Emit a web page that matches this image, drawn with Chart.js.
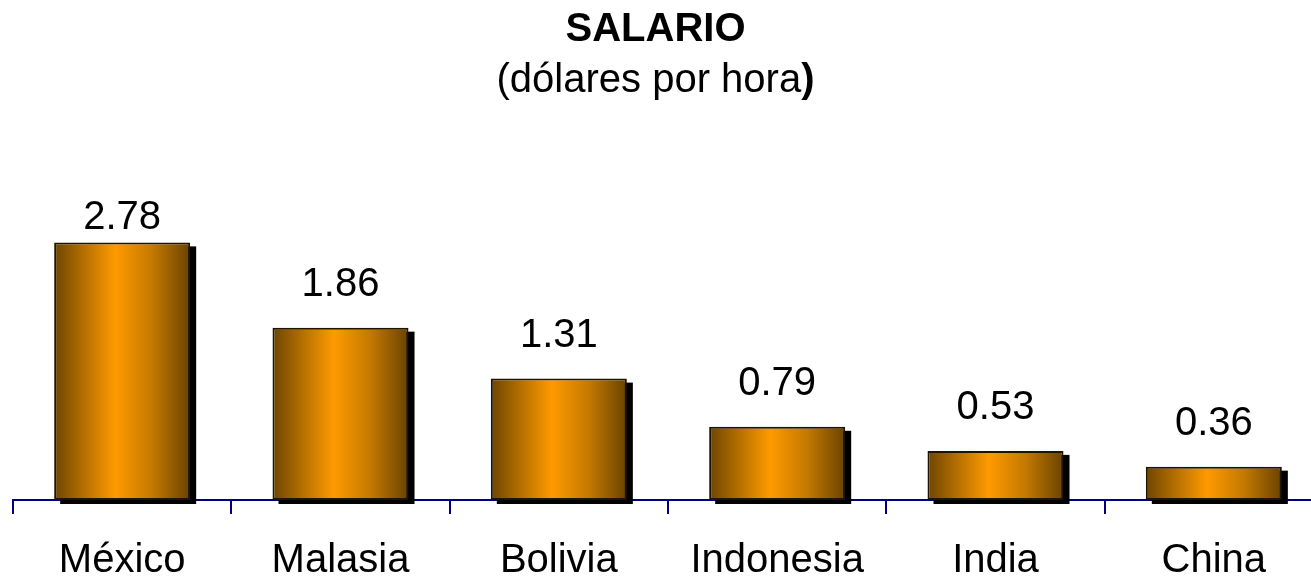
<!DOCTYPE html>
<html>
<head>
<meta charset="utf-8">
<script src="https://cdn.jsdelivr.net/npm/chart.js@4"></script>
<style>
    html, body { margin: 0; padding: 0; background: #fff; overflow: hidden; }
    #wrap { position: relative; width: 1324px; height: 609px; }
</style>
</head>
<body>
<div id="wrap"><canvas id="salaryChart"></canvas></div>
<script>
const countries = ['México', 'Malasia', 'Bolivia', 'Indonesia', 'India', 'China'];
const wages = [2.78, 1.86, 1.31, 0.79, 0.53, 0.36];
const titleText = 'SALARIO';
const subtitleText = '(dólares por hora';
const subtitleEnd = ')';

const FONT = '"Liberation Sans", Arial, sans-serif';
const BAR_PCT = 0.623;
const PAGE_WIDTH = 1311;

// horizontal cylinder-like shading for each bar
function barGradient(c) {
    const chart = c.chart;
    const x = chart.scales.x;
    if (!x || !chart.chartArea) return '#ff9900';
    const cx = x.getPixelForValue(c.dataIndex);
    const w = (x.width / countries.length) * BAR_PCT;
    const g = chart.ctx.createLinearGradient(cx - w / 2, 0, cx + w / 2, 0);
    g.addColorStop(0, '#6e4500');
    g.addColorStop(0.18, '#a86800');
    g.addColorStop(0.45, '#ff9a00');
    g.addColorStop(0.72, '#c47900');
    g.addColorStop(1, '#6a4300');
    return g;
}

const shadowPlugin = {
    id: 'shadow',
    beforeDatasetsDraw(chart) {
        const ctx = chart.ctx;
        ctx.save();
        ctx.fillStyle = '#000';
        chart.getDatasetMeta(0).data.forEach(el => {
            const p = el.getProps(['x', 'y', 'base', 'width'], true);
            ctx.fillRect(p.x - p.width / 2 + 6, p.y + 4, p.width, p.base - p.y);
        });
        ctx.restore();
    }
};

const valueLabels = {
    id: 'valueLabels',
    afterDatasetsDraw(chart) {
        const ctx = chart.ctx;
        ctx.save();
        ctx.font = '40px ' + FONT;
        ctx.fillStyle = '#000';
        ctx.textAlign = 'center';
        ctx.textBaseline = 'middle';
        chart.getDatasetMeta(0).data.forEach((el, i) => {
            const y = Math.max(el.y - 43, chart.chartArea.top - 4);
            ctx.fillText(wages[i].toFixed(2), el.x, y);
        });
        ctx.restore();
    }
};

const headings = {
    id: 'headings',
    afterDraw(chart) {
        const ctx = chart.ctx;
        const cx = PAGE_WIDTH / 2;
        ctx.save();
        ctx.fillStyle = '#000';
        ctx.textBaseline = 'alphabetic';
        ctx.textAlign = 'center';
        ctx.font = 'bold 40px ' + FONT;
        ctx.fillText(titleText, cx, 41);

        ctx.textAlign = 'left';
        ctx.font = '40px ' + FONT;
        const w1 = ctx.measureText(subtitleText).width;
        ctx.font = 'bold 40px ' + FONT;
        const w2 = ctx.measureText(subtitleEnd).width;
        const left = cx - (w1 + w2) / 2;
        ctx.font = '40px ' + FONT;
        ctx.fillText(subtitleText, left, 92);
        ctx.font = 'bold 40px ' + FONT;
        ctx.fillText(subtitleEnd, left + w1, 92);
        ctx.restore();
    }
};

new Chart(document.getElementById('salaryChart'), {
    type: 'bar',
    data: {
        labels: countries,
        datasets: [{
            data: wages,
            backgroundColor: barGradient,
            borderColor: '#1e1400',
            borderWidth: 2,
            borderSkipped: false,
            barPercentage: BAR_PCT,
            categoryPercentage: 1
        }]
    },
    options: {
        responsive: true,
        maintainAspectRatio: false,
        animation: false,
        layout: { padding: { top: 222, left: 13, right: 1, bottom: 1 } },
        plugins: {
            legend: { display: false },
            title: { display: false },
            tooltip: { enabled: false }
        },
        scales: {
            y: { display: false, min: 0, max: 3 },
            x: {
                border: { display: true, color: '#000080', width: 2 },
                grid: {
                    drawOnChartArea: false,
                    drawTicks: true,
                    tickLength: 14,
                    color: '#000080',
                    lineWidth: 2
                },
                ticks: {
                    color: '#000',
                    padding: 27,
                    font: { family: FONT, size: 40, lineHeight: 1 }
                }
            }
        }
    },
    plugins: [shadowPlugin, valueLabels, headings]
});
</script>
</body>
</html>
